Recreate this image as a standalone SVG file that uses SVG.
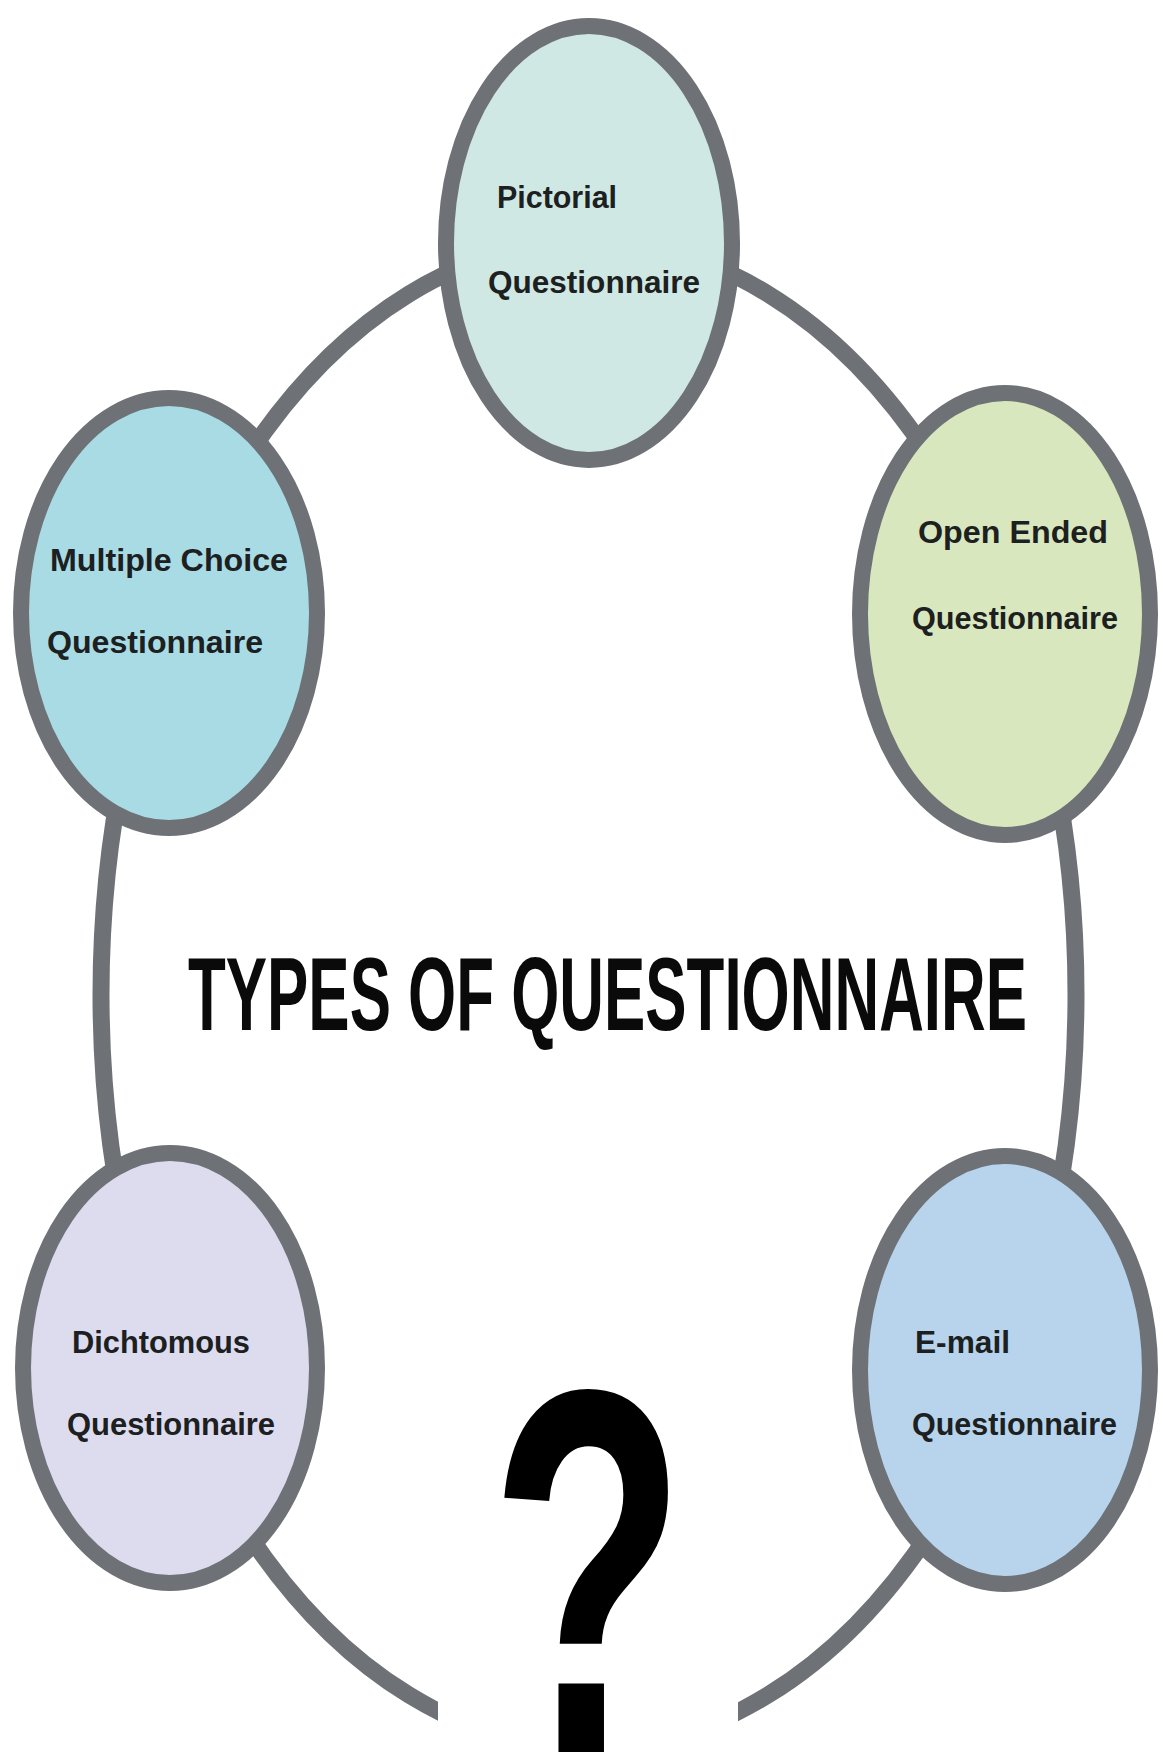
<svg xmlns="http://www.w3.org/2000/svg" width="1163" height="1757" viewBox="0 0 1163 1757">
  <style>
    .ring { fill: none; stroke: #6e7175; stroke-width: 17; }
    .node ellipse { stroke: #6e7175; stroke-width: 16; }
    .label { font-family: "Liberation Sans", Arial, sans-serif; font-weight: bold; font-size: 32px; fill: #1c2020; }
    .title { font-family: "Liberation Sans", Arial, sans-serif; font-weight: bold; font-size: 104px; fill: #0a0a0a; }
    .mark { font-family: "Liberation Sans", Arial, sans-serif; font-weight: bold; font-size: 520px; fill: #000000; }
  </style>
  <defs>
    <!-- opening at the bottom of the ring, cut with vertical edges -->
    <clipPath id="ring-gap">
      <path clip-rule="evenodd" d="M0 0H1163V1757H0Z M438 1500H738V1757H438Z"/>
    </clipPath>
  </defs>

  <rect width="1163" height="1757" fill="#ffffff"/>

  <!-- connectors: one large ring linking all nodes -->
  <g id="connectors">
    <ellipse class="ring" cx="588.5" cy="994.5" rx="487.5" ry="753.5" clip-path="url(#ring-gap)"/>
  </g>

  <g id="node-pictorial" class="node">
    <ellipse cx="589" cy="243" rx="143" ry="217" fill="#cfe8e3"/>
    <text class="label" x="497" y="208" textLength="120" lengthAdjust="spacingAndGlyphs">Pictorial</text>
    <text class="label" x="488" y="293" textLength="212" lengthAdjust="spacingAndGlyphs">Questionnaire</text>
  </g>

  <g id="node-multiple-choice" class="node">
    <ellipse cx="169" cy="613" rx="148" ry="215" fill="#a9dbe5"/>
    <text class="label" x="50" y="571" textLength="238" lengthAdjust="spacingAndGlyphs">Multiple Choice</text>
    <text class="label" x="47" y="653" textLength="216" lengthAdjust="spacingAndGlyphs">Questionnaire</text>
  </g>

  <g id="node-open-ended" class="node">
    <ellipse cx="1005" cy="614" rx="145" ry="221" fill="#d9e7be"/>
    <text class="label" x="918" y="543" textLength="190" lengthAdjust="spacingAndGlyphs">Open Ended</text>
    <text class="label" x="912" y="629" textLength="206" lengthAdjust="spacingAndGlyphs">Questionnaire</text>
  </g>

  <g id="node-dichotomous" class="node">
    <ellipse cx="170" cy="1368" rx="147" ry="215" fill="#dddcef"/>
    <text class="label" x="72" y="1353" textLength="178" lengthAdjust="spacingAndGlyphs">Dichtomous</text>
    <text class="label" x="67" y="1435" textLength="208" lengthAdjust="spacingAndGlyphs">Questionnaire</text>
  </g>

  <g id="node-email" class="node">
    <ellipse cx="1005" cy="1370" rx="145" ry="214" fill="#b7d4ec"/>
    <text class="label" x="915" y="1353" textLength="95" lengthAdjust="spacingAndGlyphs">E-mail</text>
    <text class="label" x="912" y="1435" textLength="205" lengthAdjust="spacingAndGlyphs">Questionnaire</text>
  </g>

  <g id="title">
    <text class="title" x="188" y="1030" textLength="839" lengthAdjust="spacingAndGlyphs">TYPES OF QUESTIONNAIRE</text>
  </g>

  <g id="question-mark">
    <text class="mark" transform="translate(588 1752) scale(0.62 1)" text-anchor="middle">?</text>
  </g>
</svg>
